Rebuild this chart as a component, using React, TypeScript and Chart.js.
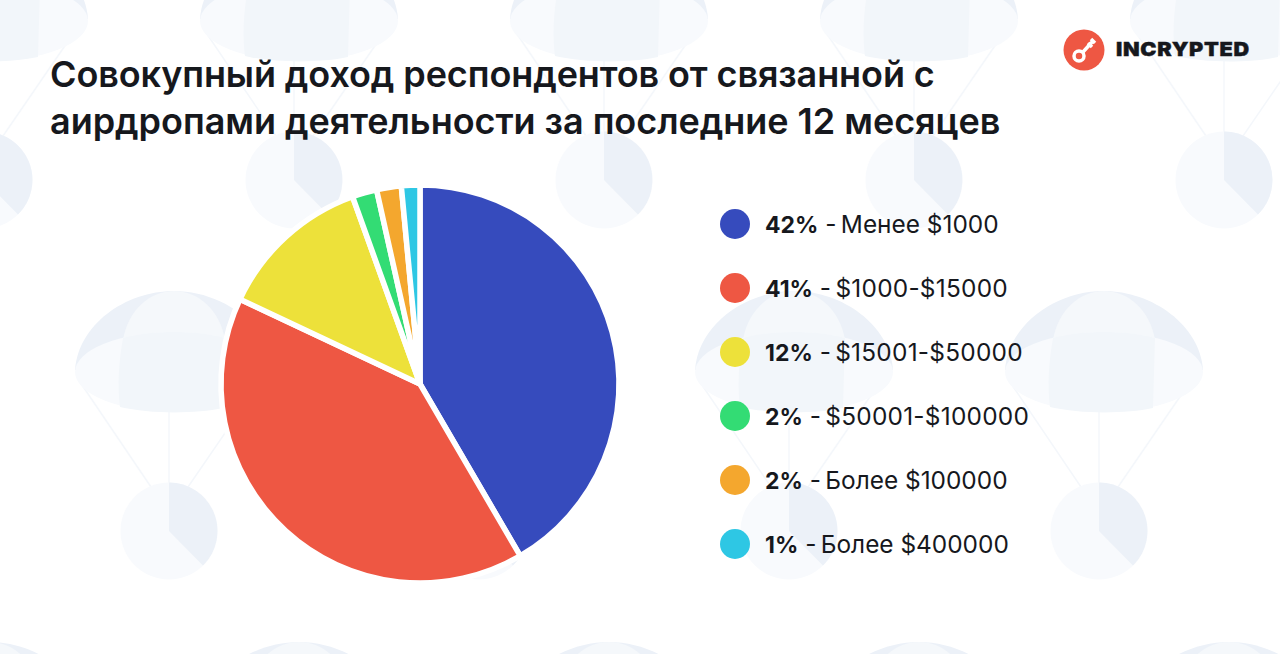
import { useEffect, useRef } from "react"
import { Chart, registerables } from "chart.js"

Chart.register(...registerables)

const categories = ["Менее $1000", "$1000-$15000", "$15001-$50000", "$50001-$100000", "Более $100000", "Более $400000"]
const percentLabels = ["42%", "41%", "12%", "2%", "2%", "1%"]
const sliceValues = [41.6, 40.4, 12.5, 2.0, 2.0, 1.5]
const sliceColors = ["#364bbd", "#ee5743", "#ede13a", "#33dc74", "#f4a72e", "#2ec7e4"]

const font = "Inter, 'Noto Sans', sans-serif"

// верхний и нижний ряд сдвинуты относительно среднего
const chuteCenters = [
  [-16, 180], [294, 180], [604, 180], [914, 180], [1224, 180],
  [169, 531], [479, 531], [789, 531], [1099, 531],
  [-16, 882], [294, 882], [604, 882], [914, 882], [1224, 882],
]

function Parachute({ x, y }: { x: number; y: number }) {
  return (
    <g transform={`translate(${x - 169} ${y - 531})`}>
      <g stroke="#f4f7fb" strokeWidth="1.5" fill="none">
        <line x1="82" y1="385" x2="151" y2="487" />
        <line x1="169" y1="412" x2="169" y2="483" />
        <line x1="258" y1="385" x2="188" y2="487" />
      </g>
      <circle cx="169" cy="531" r="48.5" fill="#f8fafd" />
      <path d="M169 482.5 A48.5 48.5 0 0 1 203 565.5 L169 531 Z" fill="#ecf1f8" />
      <path d="M75 370 C78 325 125 291 174 291 C222 291 270 325 273 370 Z" fill="#ecf1f8" />
      <path d="M123 340 C128 310 150 291 174 291 C198 291 220 310 225 340 Z" fill="#f5f8fb" />
      <ellipse cx="174" cy="372" rx="99" ry="40" fill="#f8fafd" />
      <path d="M123 338 C150 330 198 330 225 338 L223 408 C195 414 150 414 120 407 C117 385 119 360 123 338 Z" fill="#f2f6fa" />
    </g>
  )
}

export default function App() {
  const chartRef = useRef<HTMLCanvasElement>(null)

  useEffect(() => {
    if (!chartRef.current) return
    const chart = new Chart(chartRef.current, {
      type: "pie",
      data: {
        labels: categories,
        datasets: [
          {
            data: sliceValues,
            backgroundColor: sliceColors,
            borderColor: "#ffffff",
            borderWidth: 5.5,
            hoverOffset: 0,
          },
        ],
      },
      options: {
        animation: false,
        responsive: false,
        radius: 199,
        layout: { padding: 0 },
        plugins: { legend: { display: false }, tooltip: { enabled: false } },
      },
    })
    return () => chart.destroy()
  }, [])

  return (
    <div style={{ position: "fixed", left: 0, top: 0, width: 1280, height: 654, overflow: "hidden", background: "#fff", fontFamily: font, color: "#16181d" }}>
      <svg width="1280" height="654" style={{ position: "absolute", left: 0, top: 0 }}>
        {chuteCenters.map(([x, y]) => (
          <Parachute key={`${x}-${y}`} x={x} y={y} />
        ))}
      </svg>

      <div style={{ position: "absolute", left: 50, top: 51, fontSize: 36, lineHeight: "47px", fontWeight: 600, letterSpacing: "-0.04px", whiteSpace: "nowrap" }}>
        <span style={{ letterSpacing: "-0.1px" }}>Совокупный доход респондентов от связанной с</span>
        <br />
        аирдропами деятельности за последние 12 месяцев
      </div>

      <svg width="44" height="44" style={{ position: "absolute", left: 1062, top: 28 }}>
        <circle cx="22" cy="22" r="20.5" fill="#ee5743" />
        <circle cx="17" cy="28" r="5" fill="none" stroke="#fff" strokeWidth="3.5" />
        <path d="M21 24 L31 13 M26 15 L30 19 M29 11 L33 15" stroke="#fff" strokeWidth="3.5" fill="none" />
      </svg>
      <div style={{ position: "absolute", left: 1116, top: 38, fontSize: 19, lineHeight: "24px", fontWeight: 900, letterSpacing: "0.6px", transform: "scaleX(1.14)", transformOrigin: "left center", WebkitTextStroke: "0.4px #16181d" }}>INCRYPTED</div>

      <canvas ref={chartRef} width={420} height={420} style={{ position: "absolute", left: 210, top: 174, width: 420, height: 420 }} />

      {categories.map((name, i) => (
        <div key={name} style={{ position: "absolute", left: 720, top: 209 + i * 64, height: 30, display: "flex", alignItems: "center", whiteSpace: "nowrap", fontSize: 24.4 }}>
          <span style={{ width: 30, height: 30, borderRadius: "50%", background: sliceColors[i], marginRight: 15 }} />
          <span>
            <b style={{ fontWeight: 700, fontSize: 23 }}>{percentLabels[i]}</b> - <span style={{ marginLeft: -2.5, letterSpacing: name.startsWith("$") ? "0.25px" : 0 }}>{name}</span>
          </span>
        </div>
      ))}
    </div>
  )
}
